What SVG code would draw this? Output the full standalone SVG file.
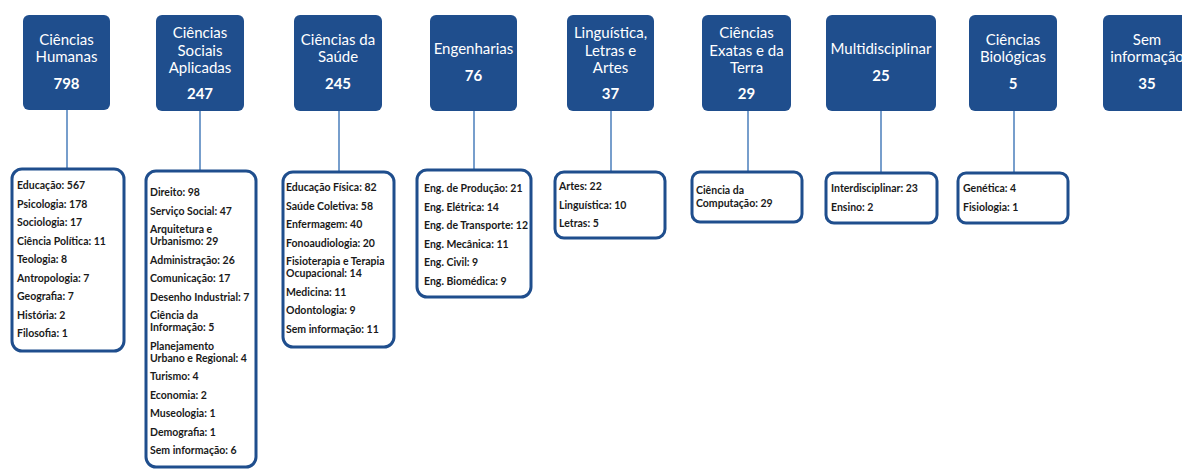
<svg xmlns="http://www.w3.org/2000/svg" width="1182" height="470" viewBox="0 0 1182 470">
<style>
.hd{fill:#1F4E8D;}
.ht{font-family:Lato,"Liberation Sans",sans-serif;font-size:15px;fill:#ffffff;text-anchor:middle;}
.hn{font-family:Lato,"Liberation Sans",sans-serif;font-size:15px;font-weight:700;fill:#ffffff;text-anchor:middle;}
.bx{fill:#ffffff;stroke:#1F4E8D;stroke-width:3;}
.lt{font-family:Lato,"Liberation Sans",sans-serif;font-size:10.5px;font-weight:700;fill:#1a1a1a;}
.cn{stroke:#4A7EBB;stroke-width:1.5;fill:none;}
</style>
<rect width="1182" height="470" fill="#ffffff"/>
<g id="connectors">
<line class="cn" x1="67" y1="110" x2="67" y2="169"/>
<line class="cn" x1="200" y1="111" x2="200" y2="171"/>
<line class="cn" x1="339" y1="111" x2="339" y2="172"/>
<line class="cn" x1="474" y1="111" x2="474" y2="170"/>
<line class="cn" x1="611" y1="111" x2="611" y2="172"/>
<line class="cn" x1="748" y1="111" x2="748" y2="172"/>
<line class="cn" x1="881" y1="111" x2="881" y2="173"/>
<line class="cn" x1="1014" y1="111" x2="1014" y2="173"/>
</g>
<g id="h1"><rect class="hd" x="23" y="15" width="87" height="95" rx="6"/>
<text class="ht" x="66.5" y="45">Ciências</text><text class="ht" x="66.5" y="62">Humanas</text><text class="hn" x="66.5" y="89">798</text></g>
<g id="h2"><rect class="hd" x="156" y="15" width="88" height="96" rx="6"/>
<text class="ht" x="200" y="38">Ciências</text><text class="ht" x="200" y="55.5">Sociais</text><text class="ht" x="200" y="73">Aplicadas</text><text class="hn" x="200" y="99">247</text></g>
<g id="h3"><rect class="hd" x="294" y="15" width="88" height="96" rx="6"/>
<text class="ht" x="338" y="45">Ciências da</text><text class="ht" x="338" y="62">Saúde</text><text class="hn" x="338" y="89">245</text></g>
<g id="h4"><rect class="hd" x="430" y="15" width="87" height="96" rx="6"/>
<text class="ht" x="473.5" y="54">Engenharias</text><text class="hn" x="473.5" y="81">76</text></g>
<g id="h5"><rect class="hd" x="567" y="15" width="87" height="96" rx="6"/>
<text class="ht" x="610.5" y="38">Linguística,</text><text class="ht" x="610.5" y="55.5">Letras e</text><text class="ht" x="610.5" y="73">Artes</text><text class="hn" x="610.5" y="99">37</text></g>
<g id="h6"><rect class="hd" x="702" y="15" width="89" height="96" rx="6"/>
<text class="ht" x="746.5" y="38">Ciências</text><text class="ht" x="746.5" y="55.5">Exatas e da</text><text class="ht" x="746.5" y="73">Terra</text><text class="hn" x="746.5" y="99">29</text></g>
<g id="h7"><rect class="hd" x="826" y="15" width="110" height="96" rx="6"/>
<text class="ht" x="881" y="54">Multidisciplinar</text><text class="hn" x="881" y="81">25</text></g>
<g id="h8"><rect class="hd" x="969" y="15" width="88" height="96" rx="6"/>
<text class="ht" x="1013" y="45">Ciências</text><text class="ht" x="1013" y="62">Biológicas</text><text class="hn" x="1013" y="89">5</text></g>
<g id="h9"><rect class="hd" x="1103" y="15" width="88" height="96" rx="6"/>
<text class="ht" x="1147" y="45">Sem</text><text class="ht" x="1147" y="62">informação</text><text class="hn" x="1147" y="89">35</text></g>

<g id="b1"><rect class="bx" x="12" y="169" width="112" height="182" rx="10"/>
<text class="lt" x="17" y="189">Educação: 567</text>
<text class="lt" x="17" y="207.5">Psicologia: 178</text>
<text class="lt" x="17" y="226">Sociologia: 17</text>
<text class="lt" x="17" y="244.5">Ciência Política: 11</text>
<text class="lt" x="17" y="263">Teologia: 8</text>
<text class="lt" x="17" y="281.5">Antropologia: 7</text>
<text class="lt" x="17" y="300">Geografia: 7</text>
<text class="lt" x="17" y="318.5">História: 2</text>
<text class="lt" x="17" y="337">Filosofia: 1</text></g>

<g id="b2"><rect class="bx" x="146" y="171" width="110" height="296" rx="10"/>
<text class="lt" x="150" y="196">Direito: 98</text>
<text class="lt" x="150" y="214.5">Serviço Social: 47</text>
<text class="lt" x="150" y="233">Arquitetura e</text>
<text class="lt" x="150" y="245">Urbanismo: 29</text>
<text class="lt" x="150" y="263.5">Administração: 26</text>
<text class="lt" x="150" y="282">Comunicação: 17</text>
<text class="lt" x="150" y="300.5">Desenho Industrial: 7</text>
<text class="lt" x="150" y="319">Ciência da</text>
<text class="lt" x="150" y="331">Informação: 5</text>
<text class="lt" x="150" y="349.5">Planejamento</text>
<text class="lt" x="150" y="361.5">Urbano e Regional: 4</text>
<text class="lt" x="150" y="380">Turismo: 4</text>
<text class="lt" x="150" y="398.5">Economia: 2</text>
<text class="lt" x="150" y="417">Museologia: 1</text>
<text class="lt" x="150" y="435.5">Demografia: 1</text>
<text class="lt" x="150" y="454">Sem informação: 6</text></g>

<g id="b3"><rect class="bx" x="283" y="172" width="111" height="175" rx="10"/>
<text class="lt" x="286" y="191">Educação Física: 82</text>
<text class="lt" x="286" y="209.5">Saúde Coletiva: 58</text>
<text class="lt" x="286" y="228">Enfermagem: 40</text>
<text class="lt" x="286" y="246.5">Fonoaudiologia: 20</text>
<text class="lt" x="286" y="265">Fisioterapia e Terapia</text>
<text class="lt" x="286" y="277">Ocupacional: 14</text>
<text class="lt" x="286" y="295.5">Medicina: 11</text>
<text class="lt" x="286" y="314">Odontologia: 9</text>
<text class="lt" x="286" y="332.5">Sem informação: 11</text></g>

<g id="b4"><rect class="bx" x="417" y="170" width="114" height="127" rx="10"/>
<text class="lt" x="424" y="192">Eng. de Produção: 21</text>
<text class="lt" x="424" y="210.5">Eng. Elétrica: 14</text>
<text class="lt" x="424" y="229">Eng. de Transporte: 12</text>
<text class="lt" x="424" y="247.5">Eng. Mecânica: 11</text>
<text class="lt" x="424" y="266">Eng. Civil: 9</text>
<text class="lt" x="424" y="284.5">Eng. Biomédica: 9</text></g>

<g id="b5"><rect class="bx" x="555" y="172" width="110" height="66" rx="9"/>
<text class="lt" x="559" y="190">Artes: 22</text>
<text class="lt" x="559" y="208.5">Linguística: 10</text>
<text class="lt" x="559" y="227">Letras: 5</text></g>

<g id="b6"><rect class="bx" x="692" y="172" width="110" height="50" rx="8"/>
<text class="lt" x="696" y="194">Ciência da</text>
<text class="lt" x="696" y="207">Computação: 29</text></g>

<g id="b7"><rect class="bx" x="826" y="173" width="111" height="50" rx="8"/>
<text class="lt" x="831" y="192">Interdisciplinar: 23</text>
<text class="lt" x="831" y="211">Ensino: 2</text></g>

<g id="b8"><rect class="bx" x="958" y="173" width="110" height="50" rx="8"/>
<text class="lt" x="963" y="192">Genética: 4</text>
<text class="lt" x="963" y="211">Fisiologia: 1</text></g>
</svg>
